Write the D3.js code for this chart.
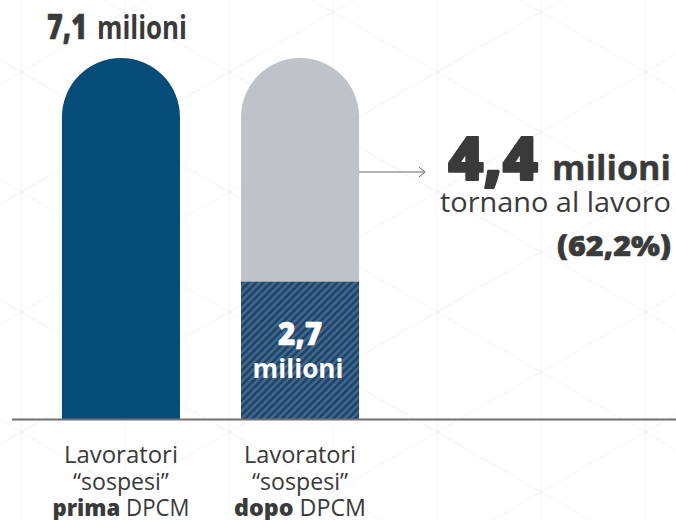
<!DOCTYPE html>
<html><head><meta charset="utf-8">
<script src="https://cdn.jsdelivr.net/npm/d3@7"></script>
<style>body{margin:0;background:#fff}svg{display:block}text{font-family:"Open Sans",Lato,sans-serif}</style>
</head><body>
<svg id="c" width="676" height="520"></svg>
<script>
const categories = ["prima", "dopo"];
const totalValues = [7.1, 7.1];
const remainingValues = [null, 2.7];
const returnedValue = 4.4;
const returnedPct = "62,2%";
const valueLabels = ["7,1", "2,7", "4,4"];

const svg = d3.select("#c");
const W = 676, H = 520;

// faint triangular background grid
const bg = svg.append("g").attr("stroke", "#f3f3f3").attr("stroke-width", 1).attr("fill", "none");
for (let x = 21; x < W + 110; x += 104) bg.append("line").attr("x1", x).attr("x2", x).attr("y1", 0).attr("y2", H);
const k = 60 / 104;
for (let c = -1200; c < 1200; c += 120) {
  bg.append("line").attr("x1", 0).attr("y1", c + 312 - k * 437).attr("x2", W).attr("y2", c + 312 - k * 437 + k * W);
  bg.append("line").attr("x1", 0).attr("y1", c + 312 + k * 437).attr("x2", W).attr("y2", c + 312 + k * 437 - k * W);
}

const x = d3.scaleBand().domain(categories).range([10, 411]).paddingInner(0.341).paddingOuter(0.29);
const y = d3.scaleLinear().domain([0, 7.1]).range([419, 58]);

const defs = svg.append("defs");
const pat = defs.append("pattern").attr("id", "hatch").attr("patternUnits", "userSpaceOnUse")
  .attr("width", 5.2).attr("height", 5.2).attr("patternTransform", "rotate(45)");
pat.append("rect").attr("width", 5.2).attr("height", 5.2).attr("fill", "#42658c");
pat.append("rect").attr("width", 2.6).attr("height", 5.2).attr("fill", "#1d4568");

function pillPath(x0, w, yTop, yBot) {
  const r = w / 2;
  return `M${x0},${yBot} L${x0},${yTop + r} A${r},${r} 0 0 1 ${x0 + w},${yTop + r} L${x0 + w},${yBot} Z`;
}

const bw = x.bandwidth();
svg.append("path").attr("d", pillPath(x("prima"), bw, y(totalValues[0]), y(0))).attr("fill", "#064c78");
svg.append("path").attr("d", pillPath(x("dopo"), bw, y(totalValues[1]), y(0))).attr("fill", "#bdc3c9");
svg.append("rect").attr("x", x("dopo")).attr("y", y(remainingValues[1])).attr("width", bw)
  .attr("height", y(0) - y(remainingValues[1])).attr("fill", "url(#hatch)");

svg.append("line").attr("x1", 12).attr("x2", W).attr("y1", y(0) + 0.5).attr("y2", y(0) + 0.5)
  .attr("stroke", "#707070").attr("stroke-width", 2);

const dark = "#3a3a3a";
function txt(str, xx, yy, size, weight, len, anchor, fill, sw) {
  const t = svg.append("text").attr("x", xx).attr("y", yy).attr("font-size", size).attr("font-weight", weight)
    .attr("fill", fill || dark).attr("text-anchor", anchor || "start")
    .attr("textLength", len).attr("lengthAdjust", "spacingAndGlyphs").text(str);
  if (sw) t.attr("stroke", fill || dark).attr("stroke-width", sw).attr("stroke-linejoin", "round");
  return t;
}

// 7,1 milioni
txt(valueLabels[0], 47, 39, 36, 800, 40, null, null, 0.6);
txt("milioni", 97, 39, 32, 700, 90);

// 2,7 milioni inside hatched segment
const cx2 = x("dopo") + bw / 2;
txt(valueLabels[1], cx2, 345, 32, 800, 44, "middle", "#fff", 0.6);
txt("milioni", cx2 - 2, 378, 27, 700, 91, "middle", "#fff");

// arrow
const arrY = 172;
svg.append("line").attr("x1", x("dopo") + bw).attr("x2", 425).attr("y1", arrY).attr("y2", arrY).attr("stroke", "#666").attr("stroke-width", 1);
svg.append("path").attr("d", `M419,${arrY - 5} L425,${arrY} L419,${arrY + 5}`).attr("fill", "none").attr("stroke", "#666").attr("stroke-width", 1);

// 4,4 milioni annotation
txt(valueLabels[2], 448, 180, 60, 800, 90, null, null, 2);
txt("milioni", 552, 180, 34, 700, 119, null, null, 0.4);
txt("tornano al lavoro", 440, 212, 28, 400, 231);
txt("(" + returnedPct + ")", 557, 256, 29, 800, 114, null, null, 0.6);

// category labels
const catBold = ["prima", "dopo"];
const lenL1 = [114, 112], lenL2 = [96, 96], lenL3 = [137, 132];
categories.forEach((c, i) => {
  const cx = x(c) + bw / 2;
  txt("Lavoratori", cx, 463, 23, 400, lenL1[i], "middle");
  txt("\u201Csospesi\u201D", cx, 490, 23, 400, lenL2[i], "middle");
  const t = txt(null, cx, 516, 23, 400, lenL3[i], "middle");
  t.append("tspan").attr("font-weight", 800).text(catBold[i]);
  t.append("tspan").text(" DPCM");
});
</script>
</body></html>
